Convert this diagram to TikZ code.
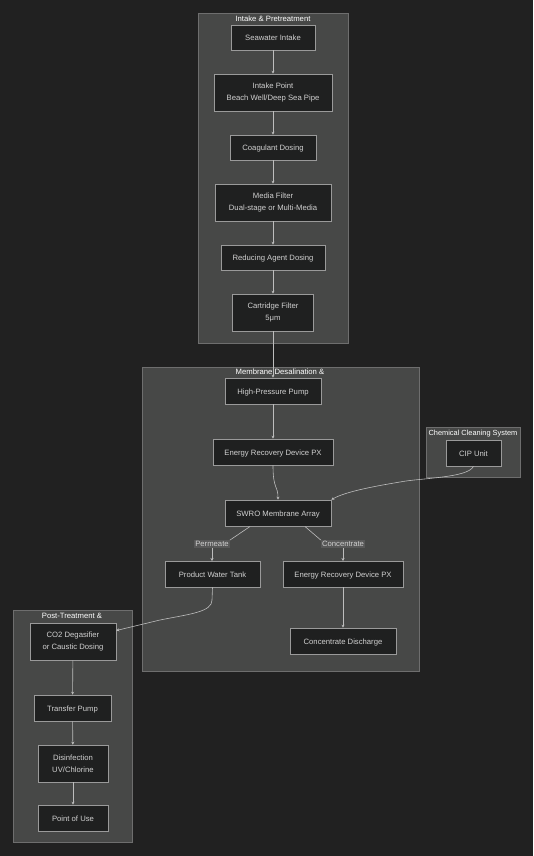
\documentclass[tikz,border=0pt]{standalone}
\usepackage{fontspec}
\setmainfont{Liberation Sans}
\usetikzlibrary{arrows.meta}
\definecolor{bg}{HTML}{212121}
\definecolor{clfill}{HTML}{474847}
\definecolor{cldraw}{HTML}{6E6E6E}
\definecolor{ndfill}{HTML}{1F2020}
\definecolor{nddraw}{HTML}{9A9A9A}
\definecolor{txt}{HTML}{D0D0D0}
\definecolor{edge}{HTML}{BDBDBD}
\definecolor{lblfill}{HTML}{585858}
\tikzset{
  cluster/.style={draw=cldraw, fill=clfill, line width=0.6pt},
  cltitle/.style={text=white, font=\fontsize{7.7}{8}\selectfont, inner sep=0pt},
  box/.style={draw=nddraw, fill=ndfill, line width=0.6pt, text=txt,
    font=\fontsize{7.7}{11.5}\selectfont, align=center, inner sep=0pt},
  onebox/.style={box, text height=6.5pt, text depth=0pt},
  twobox/.style={box, yshift=-0.6pt},
  conn/.style={draw=edge, line width=0.6pt, -{Stealth[length=3pt,width=3pt]}},
  elabel/.style={fill=lblfill, text=txt, font=\fontsize{7.7}{8}\selectfont, inner sep=1pt}
}
\begin{document}
\begin{tikzpicture}[x=1pt,y=-1pt]
\fill[bg] (0,0) rectangle (533,856);
\useasboundingbox (0,0) rectangle (533,856);
% clusters
\draw[cluster] (198,13) rectangle (348,343);
\node[cltitle] (t1) at (273,18.5) {Intake \& Pretreatment};
\draw[cluster] (142,367) rectangle (419,671);
\node[cltitle] (t2) at (280,372) {Membrane Desalination \&};
\draw[cluster] (426,427) rectangle (520,477);
\node[cltitle, font=\fontsize{7.4}{8}\selectfont] (t3) at (473,433.5) {Chemical Cleaning System};
\draw[cluster] (13,610) rectangle (132,842);
\node[cltitle] (t4) at (72,616) {Post-Treatment \&};
% nodes
\node[onebox, minimum width=84pt, minimum height=25pt] (a) at (273,37.5) {Seawater Intake};
\node[box, minimum width=118pt, minimum height=37pt] (b) at (273,92.5) {Intake Point\\Beach Well/Deep Sea Pipe};
\node[onebox, minimum width=86pt, minimum height=25pt] (c) at (273,147.5) {Coagulant Dosing};
\node[box, minimum width=116pt, minimum height=37pt] (d) at (273,202.5) {Media Filter\\Dual-stage or Multi-Media};
\node[onebox, minimum width=104pt, minimum height=25pt] (e) at (273,257.5) {Reducing Agent Dosing};
\node[box, minimum width=81pt, minimum height=37pt] (f) at (273,312.5) {Cartridge Filter\\5μm};
\node[onebox, minimum width=96pt, minimum height=26pt] (g) at (273,391) {High-Pressure Pump};
\node[onebox, minimum width=120pt, minimum height=26pt] (h) at (273,452) {Energy Recovery Device PX};
\node[onebox, minimum width=106pt, minimum height=26pt] (i) at (278,513) {SWRO Membrane Array};
\node[onebox, minimum width=95pt, minimum height=26pt] (j) at (212.5,574) {Product Water Tank};
\node[onebox, minimum width=120pt, minimum height=26pt] (k) at (343,574) {Energy Recovery Device PX};
\node[onebox, minimum width=106pt, minimum height=26pt] (l) at (343,641) {Concentrate Discharge};
\node[onebox, minimum width=55pt, minimum height=26pt] (m) at (473.5,453) {CIP Unit};
\node[box, minimum width=86pt, minimum height=37pt] (n) at (73,641.5) {CO2 Degasifier\\or Caustic Dosing};
\node[onebox, minimum width=77pt, minimum height=26pt] (o) at (72.5,708) {Transfer Pump};
\node[box, minimum width=70pt, minimum height=37pt] (p) at (73,763.5) {Disinfection\\UV/Chlorine};
\node[onebox, minimum width=70pt, minimum height=26pt] (q) at (73,818) {Point of Use};
% edges
\draw[conn] (a) -- (b);
\draw[conn] (b) -- (c);
\draw[conn] (c) -- (d);
\draw[conn] (d) -- (e);
\draw[conn] (e) -- (f);
\draw[conn] (f) -- (g);
\draw[conn] (g) -- (h);
\draw[conn] (h.south) .. controls (273,490) and (278,485) .. (i.north);
\draw[conn] (m.south) .. controls (468,478) and (420,478) .. (400,482) .. controls (370,487) and (345,492) .. (i.north east);
\node[elabel] (pl) at (212,544) {Permeate};
\node[elabel] (cl) at (343,544) {Concentrate};
\draw[draw=edge, line width=0.6pt] (250,526.5) -- (pl.north east);
\draw[conn] (pl.south) .. controls (212,553) .. (212,561);
\draw[draw=edge, line width=0.6pt] (305,526.5) -- (cl.north west);
\draw[conn] (cl.south) .. controls (343,553) .. (343,561);
\draw[conn] (k) -- (l);
\draw[conn] (j.south) -- (212,600) .. controls (212,612) and (190,614) .. (160,620) -- (n.east |- 0,630.5);
\draw[conn] (n) -- (o);
\draw[conn] (o) -- (p);
\draw[conn] (p) -- (q);
\end{tikzpicture}
\end{document}
